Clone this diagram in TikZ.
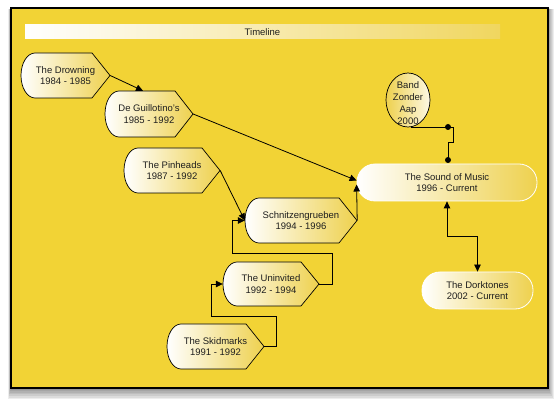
\documentclass[tikz,border=0pt]{standalone}
\usepackage{fontspec}
\setmainfont{Liberation Sans}
\usetikzlibrary{arrows.meta,calc,shapes.geometric}
\definecolor{bgy}{RGB}{242,211,53}
\definecolor{shy}{RGB}{238,209,78}
\definecolor{bary}{RGB}{240,214,95}
\definecolor{txt}{RGB}{30,30,30}
\tikzset{
  lbl/.style={align=center, inner sep=0pt, text=txt, font=\fontsize{9.5}{11.5}\selectfont},
  dispfill/.style={draw=black, line width=0.7pt, left color=white, right color=shy},
  conn/.style={draw=black, line width=0.8pt},
  arr/.style={-{Triangle[length=7pt,width=6.5pt]}},
  darr/.style={{Triangle[length=7pt,width=6.5pt]}-{Triangle[length=7pt,width=6.5pt]}},
  stadium/.style={draw=white, line width=0.8pt, rounded corners=18pt, left color=white, right color=shy,
    inner sep=0pt, align=center, text=txt, font=\fontsize{9.5}{11.5}\selectfont},
  dotend/.style={fill=black, draw=none}
}
% #1 name, #2 left, #3 top, #4 tip x, #5 bottom, #6 text
\newcommand\dispnode[6]{%
  \path[dispfill] (#2+14,#3) -- (#4-18,#3) -- (#4,{(#3+#5)/2}) -- (#4-18,#5) -- (#2+14,#5)
     arc[start angle=90,end angle=270,x radius=14,y radius={(#5-#3)/2}] -- cycle;
  \node[lbl, minimum width={(#4-#2)*1pt}, minimum height={(#5-#3)*1pt}] (#1) at ({(#2+#4)/2},{(#3+#5)/2}) {#6};
}
\begin{document}
\begin{tikzpicture}[x=1pt,y=-1pt]
\useasboundingbox (0,0) rectangle (560,403);
% shadow
\foreach \i in {1,...,7} {
  \fill[black, opacity=0.07] (11-\i*0.4,8+\i*0.2) rectangle (548+\i*0.8,388+\i*1.6);
}
% frame
\fill[bgy] (11,8) rectangle (548,388);
\draw[black, line width=1.8pt] (11,8) rectangle (548,388);
% timeline bar
\shade[left color=white, right color=bary] (25,25) rectangle (500,39);
\node[lbl] (timeline) at (262.5,32) {Timeline};

% display shapes
\dispnode{drown}{21}{53}{110}{98}{The Drowning\\1984 - 1985}
\dispnode{guil}{105}{91}{193}{137}{De Guillotino's\\1985 - 1992}
\dispnode{pin}{124}{148}{220}{193}{The Pinheads\\1987 - 1992}
\dispnode{schn}{245}{198}{357}{243}{Schnitzengrueben\\1994 - 1996}
\dispnode{uninv}{223}{262}{319}{306}{The Uninvited\\1992 - 1994}
\dispnode{skid}{167}{324}{264}{369}{The Skidmarks\\1991 - 1992}

% stadium shapes
\node[stadium, minimum width=180pt, minimum height=37pt] (som) at (447,182.5) {The Sound of Music\\1996 - Current};
\node[stadium, minimum width=111pt, minimum height=37pt] (dork) at (477.5,290.5) {The Dorktones\\2002 - Current};

% Band Zonder Aap
\path[draw=black, line width=0.7pt, left color=shy, right color=white!85!shy] (408,100) ellipse[x radius=22, y radius=27];
\node[lbl, font=\fontsize{9.5}{12}\selectfont] (band) at (408,103) {Band\\Zonder\\Aap\\2000};

% connectors
\coordinate (guiltop) at ($(guil.north)+(-6,0)$);
\draw[conn, arr] (drown.east) -- (guiltop);
\draw[conn, arr] (guil.east) -- ($(som.west)+(0,-2)$);
\draw[conn, arr] (pin.east) -- (schn.west);
\coordinate (j1) at (232,253);
\draw[conn, arr] (uninv.east) -- ++(13,0) |- (j1) |- (schn.west);
\coordinate (j2) at (211,316);
\draw[conn, arr] (skid.east) -- ++(12,0) |- (j2) |- (uninv.west);
\draw[conn, arr] (schn.east) -- ($(som.west)+(0,2)$);
% band to sound of music
\coordinate (bzs) at (411,127);
\coordinate (d1) at (448,127);
\coordinate (d2) at (448,160);
\draw[conn] (bzs) -- (453,127) -- (453,142) -- (448,142) -- (d2);
\fill[dotend] (d1) circle[radius=3];
\fill[dotend] (d2) circle[radius=3];
% sound of music to dorktones
\draw[conn, darr] (som.south) -- ++(0,35) -| (dork.north);
\end{tikzpicture}
\end{document}
